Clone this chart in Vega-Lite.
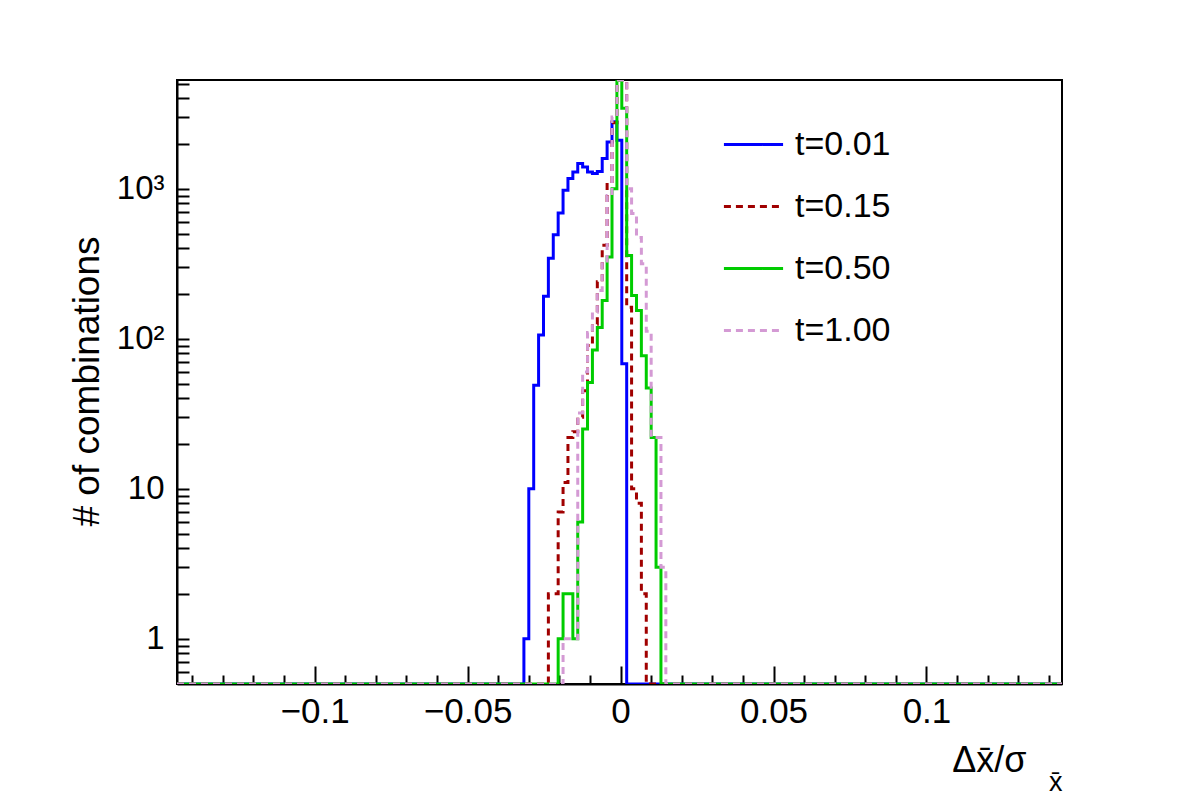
{
  "$schema": "https://vega.github.io/schema/vega-lite/v6.json",
  "width": 885,
  "height": 604,
  "autosize": {"type": "none"},
  "padding": {"left": 177, "top": 80, "right": 120, "bottom": 121},
  "background": "white",
  "config": {"view": {"stroke": "black", "strokeWidth": 2}, "font": "Liberation Sans"},
  "data": {"values": [
    {"s": "t=0.01", "x": -0.145, "n": 0},
    {"s": "t=0.01", "x": -0.0316, "n": 1},
    {"s": "t=0.01", "x": -0.0300, "n": 10},
    {"s": "t=0.01", "x": -0.0284, "n": 49},
    {"s": "t=0.01", "x": -0.0268, "n": 106},
    {"s": "t=0.01", "x": -0.0252, "n": 192},
    {"s": "t=0.01", "x": -0.0236, "n": 344},
    {"s": "t=0.01", "x": -0.0220, "n": 493},
    {"s": "t=0.01", "x": -0.0204, "n": 688},
    {"s": "t=0.01", "x": -0.0188, "n": 976},
    {"s": "t=0.01", "x": -0.0172, "n": 1167},
    {"s": "t=0.01", "x": -0.0156, "n": 1293},
    {"s": "t=0.01", "x": -0.0140, "n": 1472},
    {"s": "t=0.01", "x": -0.0124, "n": 1397},
    {"s": "t=0.01", "x": -0.0108, "n": 1293},
    {"s": "t=0.01", "x": -0.0092, "n": 1262},
    {"s": "t=0.01", "x": -0.0076, "n": 1300},
    {"s": "t=0.01", "x": -0.0060, "n": 1589},
    {"s": "t=0.01", "x": -0.0044, "n": 2050},
    {"s": "t=0.01", "x": -0.0028, "n": 2790},
    {"s": "t=0.01", "x": -0.0012, "n": 2100},
    {"s": "t=0.01", "x": 0.0004, "n": 68},
    {"s": "t=0.01", "x": 0.0020, "n": 0},
    {"s": "t=0.01", "x": 0.145, "n": 0},

    {"s": "t=0.15", "x": -0.145, "n": 0},
    {"s": "t=0.15", "x": -0.0236, "n": 2},
    {"s": "t=0.15", "x": -0.0220, "n": 2},
    {"s": "t=0.15", "x": -0.0204, "n": 7},
    {"s": "t=0.15", "x": -0.0188, "n": 11},
    {"s": "t=0.15", "x": -0.0172, "n": 22},
    {"s": "t=0.15", "x": -0.0156, "n": 24},
    {"s": "t=0.15", "x": -0.0140, "n": 30},
    {"s": "t=0.15", "x": -0.0124, "n": 45},
    {"s": "t=0.15", "x": -0.0108, "n": 90},
    {"s": "t=0.15", "x": -0.0092, "n": 125},
    {"s": "t=0.15", "x": -0.0076, "n": 240},
    {"s": "t=0.15", "x": -0.0060, "n": 419},
    {"s": "t=0.15", "x": -0.0044, "n": 1090},
    {"s": "t=0.15", "x": -0.0028, "n": 2750},
    {"s": "t=0.15", "x": -0.0012, "n": 9000},
    {"s": "t=0.15", "x": 0.0004, "n": 9000},
    {"s": "t=0.15", "x": 0.0020, "n": 162},
    {"s": "t=0.15", "x": 0.0036, "n": 10},
    {"s": "t=0.15", "x": 0.0052, "n": 8},
    {"s": "t=0.15", "x": 0.0068, "n": 2},
    {"s": "t=0.15", "x": 0.0084, "n": 0},
    {"s": "t=0.15", "x": 0.145, "n": 0},

    {"s": "t=0.50", "x": -0.145, "n": 0},
    {"s": "t=0.50", "x": -0.0204, "n": 1},
    {"s": "t=0.50", "x": -0.0188, "n": 2},
    {"s": "t=0.50", "x": -0.0172, "n": 2},
    {"s": "t=0.50", "x": -0.0156, "n": 1},
    {"s": "t=0.50", "x": -0.0140, "n": 6},
    {"s": "t=0.50", "x": -0.0124, "n": 25},
    {"s": "t=0.50", "x": -0.0108, "n": 51},
    {"s": "t=0.50", "x": -0.0092, "n": 84},
    {"s": "t=0.50", "x": -0.0076, "n": 119},
    {"s": "t=0.50", "x": -0.0060, "n": 180},
    {"s": "t=0.50", "x": -0.0044, "n": 350},
    {"s": "t=0.50", "x": -0.0028, "n": 1000},
    {"s": "t=0.50", "x": -0.0012, "n": 9000},
    {"s": "t=0.50", "x": 0.0004, "n": 3430},
    {"s": "t=0.50", "x": 0.0020, "n": 359},
    {"s": "t=0.50", "x": 0.0036, "n": 194},
    {"s": "t=0.50", "x": 0.0052, "n": 154},
    {"s": "t=0.50", "x": 0.0068, "n": 77},
    {"s": "t=0.50", "x": 0.0084, "n": 47},
    {"s": "t=0.50", "x": 0.0100, "n": 22},
    {"s": "t=0.50", "x": 0.0116, "n": 3},
    {"s": "t=0.50", "x": 0.0132, "n": 0},
    {"s": "t=0.50", "x": 0.145, "n": 0},

    {"s": "t=1.00", "x": -0.145, "n": 0},
    {"s": "t=1.00", "x": -0.0188, "n": 1},
    {"s": "t=1.00", "x": -0.0172, "n": 1},
    {"s": "t=1.00", "x": -0.0156, "n": 1},
    {"s": "t=1.00", "x": -0.0140, "n": 32},
    {"s": "t=1.00", "x": -0.0124, "n": 60},
    {"s": "t=1.00", "x": -0.0108, "n": 110},
    {"s": "t=1.00", "x": -0.0092, "n": 150},
    {"s": "t=1.00", "x": -0.0076, "n": 210},
    {"s": "t=1.00", "x": -0.0060, "n": 330},
    {"s": "t=1.00", "x": -0.0044, "n": 900},
    {"s": "t=1.00", "x": -0.0028, "n": 3000},
    {"s": "t=1.00", "x": -0.0012, "n": 9000},
    {"s": "t=1.00", "x": 0.0004, "n": 9000},
    {"s": "t=1.00", "x": 0.0020, "n": 1000},
    {"s": "t=1.00", "x": 0.0036, "n": 683},
    {"s": "t=1.00", "x": 0.0052, "n": 473},
    {"s": "t=1.00", "x": 0.0068, "n": 316},
    {"s": "t=1.00", "x": 0.0084, "n": 112},
    {"s": "t=1.00", "x": 0.0100, "n": 22},
    {"s": "t=1.00", "x": 0.0116, "n": 22},
    {"s": "t=1.00", "x": 0.0132, "n": 3},
    {"s": "t=1.00", "x": 0.0148, "n": 0},
    {"s": "t=1.00", "x": 0.145, "n": 0}
  ]},
  "layer": [
    {
      "mark": {"type": "line", "interpolate": "step-after", "strokeWidth": 3, "clip": true, "invalid": "show"},
      "encoding": {
        "x": {
          "field": "x", "type": "quantitative",
          "scale": {"domain": [-0.145, 0.1443], "nice": false, "zero": false},
          "axis": {
            "values": [-0.14,-0.13,-0.12,-0.11,-0.1,-0.09,-0.08,-0.07,-0.06,-0.05,-0.04,-0.03,-0.02,-0.01,0,0.01,0.02,0.03,0.04,0.05,0.06,0.07,0.08,0.09,0.1,0.11,0.12,0.13,0.14],
            "format": "~g",
            "labelExpr": "abs(datum.value*20 - round(datum.value*20)) < 0.001 ? datum.label : ''",
            "tickSize": {"condition": {"test": "abs(datum.value*20 - round(datum.value*20)) < 0.001", "value": -18}, "value": -9},
            "tickColor": "black", "tickWidth": 2,
            "domainColor": "black", "domainWidth": 2,
            "labelFontSize": 35, "labelColor": "black", "labelPadding": 28, "labelFont": "Liberation Sans",
            "grid": false,
            "title": "Δx̄/σ",
            "titleFontSize": 36, "titleFont": "Liberation Sans", "titleFontWeight": "normal", "titleColor": "black",
            "titleX": 849, "titleY": 87, "titleAlign": "right", "titleBaseline": "alphabetic", "titleAnchor": "end"
          }
        },
        "y": {
          "field": "n", "type": "quantitative",
          "scale": {"type": "log", "domain": [0.5, 5300], "clamp": true, "nice": false},
          "axis": {
            "values": [0.6,0.7,0.8,0.9,1,2,3,4,5,6,7,8,9,10,20,30,40,50,60,70,80,90,100,200,300,400,500,600,700,800,900,1000,2000,3000,4000,5000],
            "labelExpr": "datum.value == 1 ? '1' : datum.value == 10 ? '10' : datum.value == 100 ? '10²' : datum.value == 1000 ? '10³' : ''",
            "tickSize": -12,
            "tickColor": "black", "tickWidth": 2,
            "domainColor": "black", "domainWidth": 2,
            "labelFontSize": 33, "labelColor": "black", "labelPadding": 25, "labelFont": "Liberation Sans",
            "grid": false,
            "title": "# of combinations",
            "titleFontSize": 37, "titleFont": "Liberation Sans", "titleFontWeight": "normal", "titleColor": "black",
            "titleX": -79, "titleY": 301, "titleAlign": "center", "titleBaseline": "alphabetic", "titleAngle": -90
          }
        },
        "color": {
          "field": "s", "type": "nominal",
          "scale": {"domain": ["t=0.01", "t=0.15", "t=0.50", "t=1.00"], "range": ["#0000ff", "#a00000", "#00cc00", "#d49ad4"]},
          "legend": {
            "orient": "none", "legendX": 545, "legendY": 33, "title": null,
            "symbolType": "stroke", "symbolSize": 3500, "symbolStrokeWidth": 3,
            "labelFontSize": 34, "labelFont": "Liberation Sans", "labelColor": "black",
            "rowPadding": 13, "labelOffset": 10
          }
        },
        "strokeDash": {
          "field": "s", "type": "nominal",
          "scale": {"domain": ["t=0.01", "t=0.15", "t=0.50", "t=1.00"], "range": [[1, 0], [7, 5], [1, 0], [7, 5]]},
          "legend": {
            "orient": "none", "legendX": 545, "legendY": 33, "title": null,
            "symbolType": "stroke", "symbolSize": 3500, "symbolStrokeWidth": 3,
            "labelFontSize": 34, "labelFont": "Liberation Sans", "labelColor": "black",
            "rowPadding": 13, "labelOffset": 10
          }
        }
      }
    },
    {
      "mark": {"type": "point", "opacity": 0},
      "encoding": {
        "x": {
          "field": "x", "type": "quantitative",
          "axis": {
            "orient": "bottom", "labels": false, "ticks": false, "domain": false, "grid": false,
            "title": "x̄",
            "titleFontSize": 27, "titleFont": "Liberation Sans", "titleFontWeight": "normal", "titleColor": "black",
            "titleX": 885, "titleY": 106, "titleAlign": "right", "titleBaseline": "alphabetic", "titleAnchor": "end"
          }
        }
      }
    }
  ],
  "resolve": {"axis": {"x": "independent"}}
}
